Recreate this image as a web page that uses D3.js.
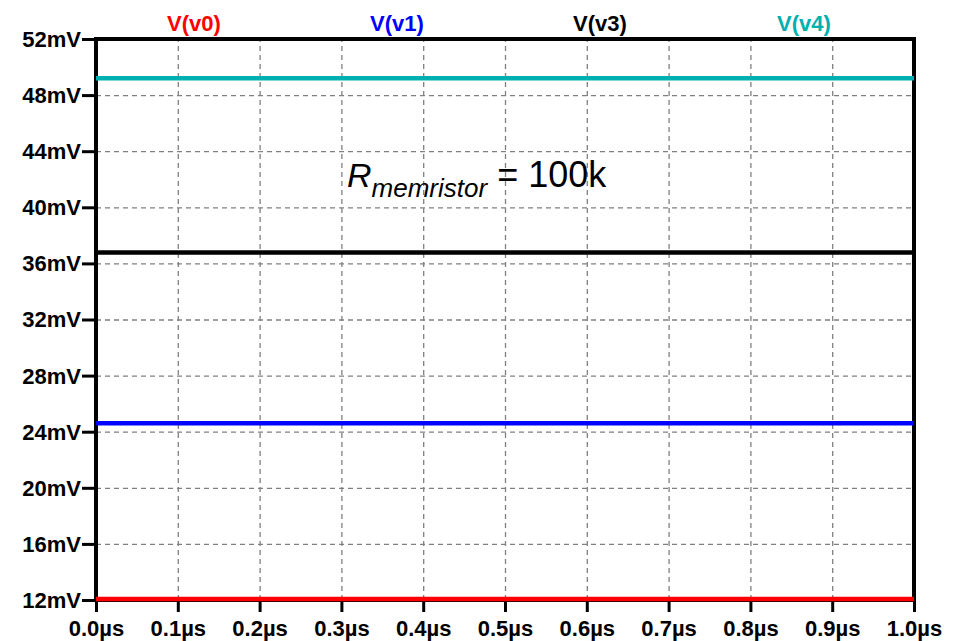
<!DOCTYPE html>
<html>
<head>
<meta charset="utf-8">
<script src="https://cdn.jsdelivr.net/npm/d3@7"></script>
<style>
  html, body { margin: 0; padding: 0; background: #fff; }
  svg { display: block; }
</style>
</head>
<body>
<svg id="chart" width="957" height="641"></svg>
<script>
// Node voltages (mV), constant over the transient run
const seriesNames  = ["V(v0)", "V(v1)", "V(v3)", "V(v4)"];
const seriesColors = ["#ff0000", "#0000ff", "#000000", "#00b0b0"];
const seriesValues = [12.07, 24.6, 36.78, 49.2];
const timeRange    = [0, 1.0];   // µs
const timeTicks    = [0, 0.1, 0.2, 0.3, 0.4, 0.5, 0.6, 0.7, 0.8, 0.9, 1.0];
const voltTicks    = [12, 16, 20, 24, 28, 32, 36, 40, 44, 48, 52];
const legendCenters = [194, 397, 600, 804];

const svg = d3.select("#chart");
const L = 96, R = 914, T = 39, B = 600;

const x = d3.scaleLinear().domain(timeRange).range([L, R]);
const y = d3.scaleLinear().domain([12, 52]).range([B, T]);

const font = "'Liberation Sans', Arial, sans-serif";

// dashed grid
const gx = svg.append("g").attr("transform", `translate(0,${B})`)
  .call(d3.axisBottom(x).tickValues(timeTicks.slice(1, -1)).tickSize(-(B - T)).tickFormat(""));
const gy = svg.append("g").attr("transform", `translate(${L},0)`)
  .call(d3.axisLeft(y).tickValues(voltTicks.slice(1, -1)).tickSize(-(R - L)).tickFormat(""));
[gx, gy].forEach(g => {
  g.select(".domain").remove();
  g.selectAll("line").attr("stroke", "#808080").attr("stroke-width", 1.3).attr("stroke-dasharray", "5,4");
});

// axes with labels
const ay = svg.append("g").attr("transform", `translate(${L},0)`)
  .call(d3.axisLeft(y).tickValues(voltTicks).tickSize(14).tickPadding(1).tickFormat(d => d + "mV"));
const ax = svg.append("g").attr("transform", `translate(0,${B})`)
  .call(d3.axisBottom(x).tickValues(timeTicks).tickSize(12).tickPadding(8).tickFormat(d => d.toFixed(1) + "µs"));
[ax, ay].forEach(g => {
  g.select(".domain").remove();
  g.selectAll("line").attr("stroke", "#000").attr("stroke-width", 3);
  g.selectAll("text").attr("fill", "#000").style("font-family", font)
    .style("font-weight", "bold").style("font-size", "22px");
});
ay.selectAll("text").attr("dy", "0.34em");
ax.selectAll("text").attr("dy", "0.72em");

// frame
svg.append("rect").attr("x", L).attr("y", T).attr("width", R - L).attr("height", B - T)
  .attr("fill", "none").attr("stroke", "#000").attr("stroke-width", 4);

// traces
const line = d3.line().x(d => x(d[0])).y(d => y(d[1]));
seriesValues.forEach((v, i) => {
  svg.append("path")
    .attr("d", line(timeRange.map(t => [t, v])))
    .attr("fill", "none").attr("stroke", seriesColors[i]).attr("stroke-width", 4.5);
});

// legend
seriesNames.forEach((n, i) => {
  svg.append("text").attr("x", legendCenters[i]).attr("y", 31)
    .attr("text-anchor", "middle").attr("fill", seriesColors[i])
    .style("font-family", font).style("font-weight", "bold").style("font-size", "22px")
    .text(n);
});

// annotation
const ann = svg.append("text").attr("x", 347).attr("y", 187)
  .style("font-family", font).attr("fill", "#000");
ann.append("tspan").style("font-style", "italic").style("font-size", "34px").text("R");
ann.append("tspan").style("font-style", "italic").style("font-size", "26px").attr("dy", 10).text("memristor");
ann.append("tspan").style("font-size", "36px").attr("dy", -10).text(" = 100k");
</script>
</body>
</html>
